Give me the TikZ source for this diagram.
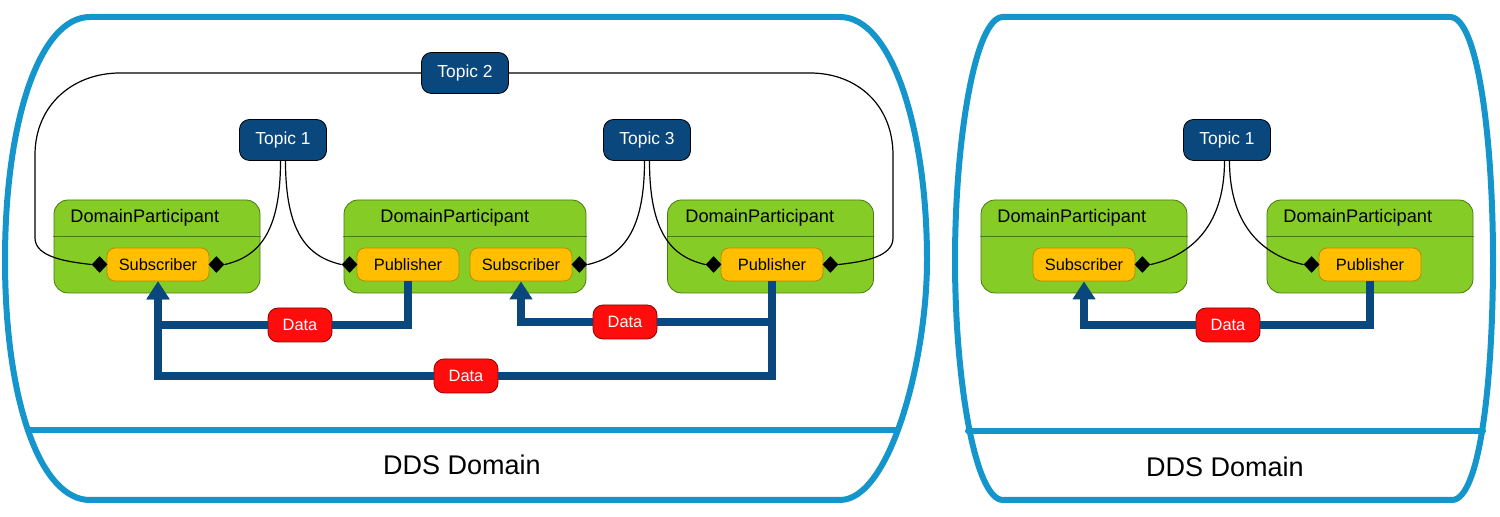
\documentclass[tikz,border=0pt]{standalone}
\usepackage{fontspec}
\setmainfont{Liberation Sans}
\usetikzlibrary{arrows.meta,shapes.geometric}
\definecolor{qqzzcc}{rgb}{0.08,0.59,0.80}
\definecolor{ttccqq}{rgb}{0.52,0.80,0.15}
\definecolor{ttaaqq}{rgb}{0.30,0.47,0.07}
\definecolor{ffbfqq}{rgb}{1,0.75,0}
\definecolor{ccaaqq}{rgb}{0.72,0.55,0}
\definecolor{qqttaa}{rgb}{0.04,0.28,0.49}
\definecolor{ffqqqq}{rgb}{1,0.05,0.05}
\definecolor{aaqqqq}{rgb}{0.55,0,0}
\begin{document}
\begin{tikzpicture}[line cap=round,line join=round,>={Triangle[width=11pt,length=9pt]},x=0.5pt,y=-0.5pt,
	dom/.style={color=qqzzcc,line width=3pt},
	part/.style={draw=ttaaqq,fill=ttccqq,rounded corners=7pt,minimum width=103pt,minimum height=46.5pt,inner sep=0pt},
	ptitle/.style={anchor=west,inner sep=0pt,font=\fontsize{9.1}{11}\selectfont},
	ps/.style={draw=ccaaqq,fill=ffbfqq,rounded corners=4pt,minimum width=51pt,minimum height=16.5pt,inner sep=0pt,font=\fontsize{8.2}{10}\selectfont},
	topic/.style={draw=black,fill=qqttaa,text=white,rounded corners=5pt,minimum width=43.5pt,minimum height=20.5pt,inner sep=0pt,font=\fontsize{8.7}{10}\selectfont},
	datatag/.style={draw=aaqqqq,fill=ffqqqq,text=white,rounded corners=5pt,minimum width=32pt,minimum height=17pt,inner sep=0pt,font=\fontsize{8.2}{10}\selectfont},
	dia/.style={diamond,fill=black,inner sep=0pt,minimum width=8pt,minimum height=8.5pt},
	link/.style={draw=black,line width=0.6pt},
	flow/.style={draw=qqttaa,line width=4pt,line join=miter,line cap=butt},
	domname/.style={font=\fontsize{13.5}{16}\selectfont}]
	\useasboundingbox (0,0) rectangle (1500,517);
	\draw[dom] (90,17) -- (840,17) .. controls (892,17) and (927,130) .. (927,260) .. controls (927,360) and (890,500) .. (840,500) -- (90,500) .. controls (40,500) and (5,400) .. (5,260) .. controls (5,120) and (40,17) .. cycle;
	\draw[dom] (30,430) -- (897,430);
	\draw[dom] (1003,17) -- (1450,17) .. controls (1478,17) and (1493,140) .. (1493,260) .. controls (1493,380) and (1480,500) .. (1452,500) -- (1003,500) .. controls (975,500) and (955,380) .. (955,260) .. controls (955,140) and (975,17) .. cycle;
	\draw[dom] (968,431) -- (1483,431);
	\node[domname] (n1) at (462,465) {DDS Domain};
	\node[domname] (n2) at (1225,467) {DDS Domain};
	\node[part] (p1) at (157,246.5) {};
	\node[part,minimum width=121pt] (p2) at (465,246.5) {};
	\node[part] (p3) at (770.5,246.5) {};
	\node[part] (q1) at (1084,246.5) {};
	\node[part] (q2) at (1370,246.5) {};
	\draw[ttaaqq] ([yshift=-18.5pt]p1.north west) -- ([yshift=-18.5pt]p1.north east);
	\draw[ttaaqq] ([yshift=-18.5pt]p2.north west) -- ([yshift=-18.5pt]p2.north east);
	\draw[ttaaqq] ([yshift=-18.5pt]p3.north west) -- ([yshift=-18.5pt]p3.north east);
	\draw[ttaaqq] ([yshift=-18.5pt]q1.north west) -- ([yshift=-18.5pt]q1.north east);
	\draw[ttaaqq] ([yshift=-18.5pt]q2.north west) -- ([yshift=-18.5pt]q2.north east);
	\node[ptitle] (p1t) at (70,218) {DomainParticipant};
	\node[ptitle] (p2t) at (380,218) {DomainParticipant};
	\node[ptitle] (p3t) at (685,218) {DomainParticipant};
	\node[ptitle] (q1t) at (997,218) {DomainParticipant};
	\node[ptitle] (q2t) at (1283,218) {DomainParticipant};
	\node[ps] (sA) at (158,264.5) {Subscriber};
	\node[ps] (pA) at (408,264.5) {Publisher};
	\node[ps] (sB) at (521,264.5) {Subscriber};
	\node[ps] (pB) at (772,264.5) {Publisher};
	\node[ps] (sC) at (1084,264.5) {Subscriber};
	\node[ps] (pC) at (1370,264.5) {Publisher};
	\node[dia] (sAl) at ([xshift=-3.5pt]sA.west) {};
	\node[dia] (sAr) at ([xshift=3.5pt]sA.east) {};
	\node[dia] (pAl) at ([xshift=-3.5pt]pA.west) {};
	\node[dia] (sBr) at ([xshift=3.5pt]sB.east) {};
	\node[dia] (pBl) at ([xshift=-3.5pt]pB.west) {};
	\node[dia] (pBr) at ([xshift=3.5pt]pB.east) {};
	\node[dia] (sCr) at ([xshift=3.5pt]sC.east) {};
	\node[dia] (pCl) at ([xshift=-3.5pt]pC.west) {};
	\node[topic] (t1) at (283,140) {Topic 1};
	\node[topic] (t2) at (465,73) {Topic 2};
	\node[topic] (t3) at (647,140) {Topic 3};
	\node[topic] (t4) at (1227,140) {Topic 1};
	\draw[link] ([xshift=-1.25pt]t1.south) .. controls +(0,70) and +(35,-8) .. (sAr.east);
	\draw[link] ([xshift=1.25pt]t1.south) .. controls +(0,70) and +(-35,-8) .. (pAl.west);
	\draw[link] (t2.west) -- (120,73) .. controls (73,73) and (35,105) .. (35,155) -- (35,238) .. controls (35,258) and (70,262) .. (sAl.west);
	\draw[link] (t2.east) -- (810,73) .. controls (857,73) and (893,105) .. (893,155) -- (893,238) .. controls (893,258) and (860,262) .. (pBr.east);
	\draw[link] ([xshift=-1.25pt]t3.south) .. controls +(0,70) and +(35,-8) .. (sBr.east);
	\draw[link] ([xshift=1.25pt]t3.south) .. controls +(0,70) and +(-35,-8) .. (pBl.west);
	\draw[link] ([xshift=-1.25pt]t4.south) .. controls +(0,70) and +(35,-8) .. (sCr.east);
	\draw[link] ([xshift=1.25pt]t4.south) .. controls +(0,70) and +(-35,-8) .. (pCl.west);
	\node[datatag] (d1) at (300,325) {Data};
	\node[datatag] (d2) at (625,322) {Data};
	\node[datatag] (d3) at (466,376) {Data};
	\node[datatag] (d4) at (1228,325) {Data};
	\draw[flow] (pA) |- (d1);
	\draw[flow,->] (d1) -| (sA);
	\draw[flow] (pB) |- (d2);
	\draw[flow,->] (d2) -| (sB);
	\draw[flow] (pB) |- (d3);
	\draw[flow,->] (d3) -| (sA);
	\draw[flow] (pC) |- (d4);
	\draw[flow,->] (d4) -| (sC);
\end{tikzpicture}
\end{document}
